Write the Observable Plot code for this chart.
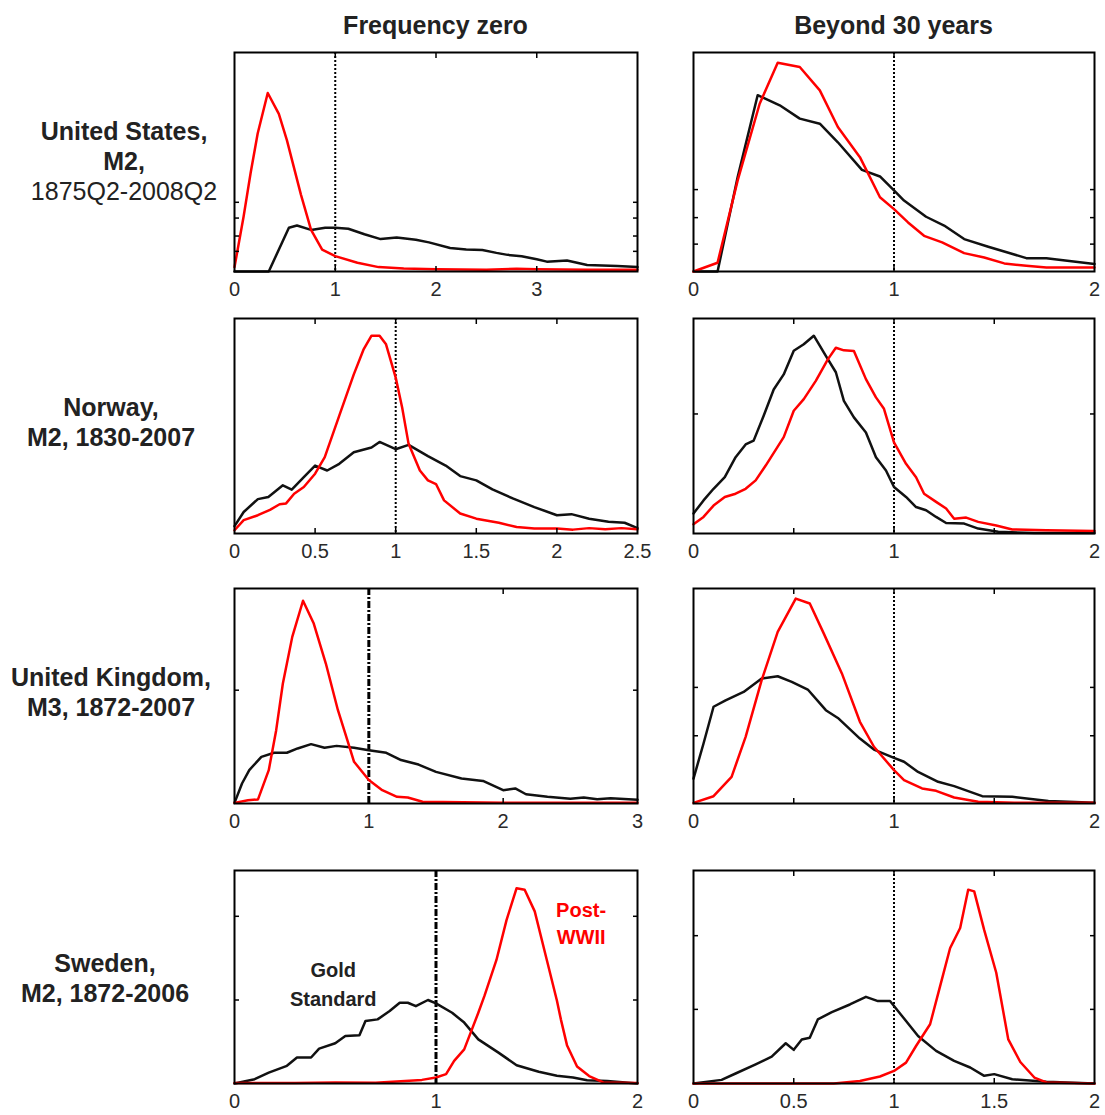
<!DOCTYPE html>
<html>
<head>
<meta charset="utf-8">
<script src="https://cdn.jsdelivr.net/npm/d3@7"></script>
<script src="https://cdn.jsdelivr.net/npm/@observablehq/plot@0.6"></script>
<style>
  body { margin: 0; background: #fff; }
  #chart { position: relative; width: 1105px; height: 1115px; font-family: "Liberation Sans", Arial, sans-serif; background: #fff; overflow: hidden; }
  #chart svg { position: absolute; overflow: visible; }
  .colTitle { position: absolute; font-size: 25px; font-weight: bold; color: #222; white-space: nowrap; transform: translateX(-50%); line-height: 28px; }
  .rowLabel { position: absolute; font-size: 25px; font-weight: bold; color: #222; white-space: nowrap; text-align: center; transform: translateX(-50%); line-height: 30px; }
  .rowLabel .reg { font-weight: normal; }
</style>
</head>
<body>
<div id="chart"></div>
<script>
// ---------- data (relative density, fraction of panel height) ----------
const columnTitles = ["Frequency zero", "Beyond 30 years"];
const rowLabels = [
  ["United States,", "M2,", "1875Q2-2008Q2"],
  ["Norway,", "M2, 1830-2007"],
  ["United Kingdom,", "M3, 1872-2007"],
  ["Sweden,", "M2, 1872-2006"]
];

// United States
const usZeroGold = [[0,0],[0.34,0],[0.54,0.2],[0.62,0.21],[0.76,0.19],[0.9,0.2],[1.0,0.2],[1.13,0.195],[1.29,0.17],[1.45,0.148],[1.61,0.155],[1.8,0.145],[1.93,0.133],[2.14,0.107],[2.3,0.1],[2.46,0.098],[2.6,0.085],[2.71,0.076],[2.85,0.07],[3.0,0.056],[3.1,0.045],[3.3,0.05],[3.5,0.03],[3.8,0.025],[4.0,0.02]];
const usZeroPost = [[0,0.02],[0.09,0.25],[0.16,0.45],[0.23,0.63],[0.33,0.815],[0.44,0.72],[0.52,0.6],[0.66,0.35],[0.76,0.19],[0.87,0.1],[1.0,0.07],[1.22,0.04],[1.43,0.02],[1.68,0.014],[2.0,0.01],[2.5,0.008],[2.8,0.012],[3.0,0.01],[3.5,0.008],[4.0,0.008]];
const us30Gold = [[0,0],[0.12,0],[0.22,0.43],[0.32,0.805],[0.43,0.759],[0.53,0.698],[0.63,0.675],[0.72,0.59],[0.84,0.464],[0.93,0.434],[1.0,0.37],[1.05,0.324],[1.16,0.25],[1.25,0.21],[1.35,0.148],[1.47,0.113],[1.66,0.061],[1.76,0.061],[2.0,0.034]];
const us30Post = [[0,0],[0.12,0.04],[0.22,0.415],[0.33,0.766],[0.42,0.953],[0.53,0.934],[0.63,0.827],[0.72,0.66],[0.83,0.522],[0.93,0.339],[1.0,0.285],[1.07,0.224],[1.15,0.163],[1.24,0.133],[1.35,0.084],[1.45,0.064],[1.55,0.037],[1.66,0.026],[1.76,0.018],[2.0,0.018]];

// Norway
const noZeroGold = [[0,0.034],[0.057,0.1],[0.145,0.16],[0.21,0.17],[0.3,0.224],[0.355,0.204],[0.43,0.262],[0.5,0.316],[0.575,0.293],[0.65,0.324],[0.74,0.378],[0.85,0.4],[0.9,0.426],[1.0,0.392],[1.08,0.412],[1.2,0.36],[1.31,0.316],[1.4,0.267],[1.5,0.247],[1.6,0.205],[1.73,0.162],[1.86,0.123],[2.0,0.085],[2.09,0.09],[2.2,0.069],[2.32,0.055],[2.42,0.05],[2.5,0.025]];
const noZeroPost = [[0,0.015],[0.057,0.062],[0.145,0.085],[0.22,0.11],[0.28,0.136],[0.32,0.14],[0.37,0.185],[0.43,0.216],[0.5,0.278],[0.56,0.355],[0.65,0.548],[0.74,0.74],[0.8,0.855],[0.85,0.92],[0.9,0.92],[0.94,0.88],[1.0,0.725],[1.04,0.586],[1.08,0.417],[1.15,0.293],[1.2,0.247],[1.25,0.23],[1.3,0.154],[1.4,0.093],[1.5,0.069],[1.64,0.05],[1.75,0.03],[1.86,0.023],[2.0,0.023],[2.1,0.018],[2.2,0.025],[2.3,0.02],[2.4,0.025],[2.5,0.02]];
const no30Gold = [[0,0.093],[0.05,0.154],[0.1,0.208],[0.156,0.262],[0.21,0.355],[0.26,0.414],[0.3,0.432],[0.35,0.548],[0.4,0.67],[0.45,0.74],[0.5,0.85],[0.55,0.88],[0.6,0.92],[0.66,0.826],[0.71,0.75],[0.75,0.617],[0.8,0.54],[0.86,0.47],[0.91,0.355],[0.96,0.293],[1.0,0.216],[1.06,0.17],[1.11,0.123],[1.16,0.108],[1.21,0.077],[1.26,0.049],[1.35,0.046],[1.42,0.023],[1.52,0.008],[1.7,0.002],[2.0,0.002]];
const no30Post = [[0,0.043],[0.05,0.077],[0.1,0.13],[0.156,0.17],[0.21,0.185],[0.26,0.208],[0.31,0.247],[0.36,0.316],[0.45,0.448],[0.5,0.571],[0.55,0.625],[0.61,0.71],[0.67,0.81],[0.71,0.864],[0.75,0.852],[0.8,0.849],[0.86,0.718],[0.91,0.633],[0.95,0.58],[1.0,0.424],[1.06,0.324],[1.11,0.262],[1.15,0.185],[1.21,0.147],[1.26,0.116],[1.3,0.069],[1.36,0.074],[1.42,0.054],[1.51,0.037],[1.59,0.019],[1.76,0.015],[2.0,0.012]];

// United Kingdom
const ukZeroGold = [[0,0.003],[0.056,0.093],[0.11,0.155],[0.2,0.217],[0.295,0.236],[0.39,0.236],[0.47,0.256],[0.57,0.276],[0.67,0.259],[0.76,0.268],[0.89,0.259],[1.0,0.248],[1.13,0.236],[1.24,0.202],[1.37,0.181],[1.5,0.147],[1.69,0.116],[1.85,0.105],[2.0,0.062],[2.09,0.07],[2.17,0.043],[2.33,0.031],[2.5,0.022],[2.6,0.028],[2.7,0.02],[2.8,0.024],[3.0,0.018]];
const ukZeroPost = [[0,0.003],[0.1,0.015],[0.175,0.019],[0.255,0.155],[0.31,0.34],[0.36,0.558],[0.43,0.775],[0.51,0.943],[0.59,0.837],[0.68,0.651],[0.77,0.434],[0.84,0.295],[0.89,0.194],[1.0,0.109],[1.1,0.062],[1.21,0.031],[1.29,0.028],[1.4,0.008],[2.0,0.004],[3.0,0.004]];
const uk30Gold = [[0,0.116],[0.05,0.279],[0.1,0.45],[0.16,0.48],[0.25,0.519],[0.34,0.581],[0.42,0.592],[0.49,0.566],[0.57,0.53],[0.66,0.434],[0.72,0.398],[0.83,0.302],[0.9,0.251],[1.0,0.212],[1.05,0.194],[1.12,0.147],[1.22,0.101],[1.3,0.081],[1.44,0.034],[1.59,0.031],[1.77,0.012],[2.0,0.003]];
const uk30Post = [[0,0.003],[0.1,0.034],[0.19,0.124],[0.26,0.31],[0.34,0.574],[0.42,0.798],[0.51,0.953],[0.58,0.93],[0.65,0.79],[0.74,0.605],[0.83,0.38],[0.9,0.264],[1.0,0.155],[1.05,0.109],[1.14,0.07],[1.21,0.059],[1.3,0.028],[1.42,0.008],[1.6,0.003],[2.0,0.003]];

// Sweden
const seZeroGold = [[0,0],[0.1,0.02],[0.17,0.051],[0.26,0.083],[0.31,0.122],[0.38,0.122],[0.42,0.164],[0.5,0.189],[0.55,0.223],[0.62,0.226],[0.65,0.293],[0.71,0.301],[0.77,0.34],[0.82,0.379],[0.86,0.379],[0.9,0.363],[0.96,0.392],[1.0,0.376],[1.08,0.332],[1.14,0.286],[1.21,0.207],[1.31,0.145],[1.4,0.086],[1.51,0.055],[1.6,0.036],[1.68,0.028],[1.75,0.015],[1.85,0.012],[2.0,0.0]];
const seZeroPost = [[0,0.002],[0.3,0.002],[0.5,0.005],[0.7,0.003],[0.93,0.017],[1.0,0.028],[1.05,0.044],[1.09,0.106],[1.14,0.16],[1.21,0.332],[1.24,0.41],[1.3,0.58],[1.35,0.767],[1.4,0.917],[1.44,0.91],[1.49,0.808],[1.55,0.58],[1.6,0.39],[1.62,0.3],[1.65,0.18],[1.7,0.08],[1.76,0.035],[1.83,0.005],[2.0,0.002]];
const se30Gold = [[0,0],[0.14,0.017],[0.21,0.047],[0.31,0.09],[0.39,0.126],[0.46,0.189],[0.5,0.158],[0.54,0.207],[0.58,0.215],[0.62,0.301],[0.69,0.335],[0.78,0.371],[0.86,0.407],[0.92,0.387],[0.98,0.387],[1.04,0.317],[1.12,0.223],[1.21,0.153],[1.3,0.106],[1.38,0.075],[1.45,0.036],[1.5,0.044],[1.59,0.02],[1.76,0.008],[2.0,0.0]];
const se30Post = [[0,0],[0.7,0],[0.83,0.012],[0.93,0.033],[1.0,0.059],[1.06,0.098],[1.11,0.176],[1.18,0.278],[1.23,0.457],[1.28,0.636],[1.33,0.73],[1.37,0.91],[1.4,0.902],[1.45,0.72],[1.51,0.52],[1.57,0.207],[1.63,0.101],[1.7,0.028],[1.76,0.005],[2.0,0]];

// axes
const xDomains = [[0,4],[0,2],[0,2.5],[0,2],[0,3],[0,2],[0,2],[0,2]];
const xTickLabels = [[0,1,2,3],[0,1,2],[0,0.5,1,1.5,2,2.5],[0,1,2],[0,1,2,3],[0,1,2],[0,1,2],[0,0.5,1,1.5,2]];
const xTickMarks = [[1,2,3],[1],[0.5,1,1.5,2],[0.5,1,1.5],[1,2],[0.5,1,1.5],[1],[0.5,1,1.5]];
const yTickMarks = [[0.092,0.162,0.244,0.316],[0.125,0.246,0.374],[],[0.556],[0.527],[0.315,0.54],[0.392,0.785],[0.348,0.694]];
const refLineStyle = ["dot","dot","dot","dot","dashdot","dot","dashdot","dot"];
const goldSeries = [usZeroGold, us30Gold, noZeroGold, no30Gold, ukZeroGold, uk30Gold, seZeroGold, se30Gold];
const postSeries = [usZeroPost, us30Post, noZeroPost, no30Post, ukZeroPost, uk30Post, seZeroPost, se30Post];
const annotations = [
  {panel: 6, x: 0.49, y: 0.53, text: "Gold", color: "#222"},
  {panel: 6, x: 0.49, y: 0.395, text: "Standard", color: "#222"},
  {panel: 6, x: 1.72, y: 0.81, text: "Post-", color: "#ff0000"},
  {panel: 6, x: 1.72, y: 0.685, text: "WWII", color: "#ff0000"}
];

// ---------- layout ----------
const colFrames = [{left: 234, width: 403}, {left: 693, width: 401}];
const rowFrames = [{top: 52, height: 219}, {top: 318, height: 215}, {top: 588, height: 215}, {top: 870, height: 213}];
const rowLabelPos = [{cx: 124, cy: 161}, {cx: 111, cy: 422}, {cx: 111, cy: 692}, {cx: 105, cy: 978}];

const chart = document.getElementById("chart");

columnTitles.forEach((t, c) => {
  const d = document.createElement("div");
  d.className = "colTitle";
  d.textContent = t;
  d.style.left = (colFrames[c].left + colFrames[c].width / 2) + "px";
  d.style.top = "11px";
  chart.appendChild(d);
});

rowLabels.forEach((lines, r) => {
  const d = document.createElement("div");
  d.className = "rowLabel";
  lines.forEach((l) => {
    const s = document.createElement("div");
    s.textContent = l;
    if (/^\d{4}Q/.test(l)) s.className = "reg";
    d.appendChild(s);
  });
  d.style.left = rowLabelPos[r].cx + "px";
  d.style.top = (rowLabelPos[r].cy - lines.length * 15) + "px";
  chart.appendChild(d);
});

const mL = 20, mR = 24, mT = 6, mB = 36;
const noText = () => "";

for (let i = 0; i < 8; i++) {
  const r = Math.floor(i / 2), c = i % 2;
  const fw = colFrames[c].width, fh = rowFrames[r].height;
  const dash = refLineStyle[i] === "dot"
    ? {strokeWidth: 2, strokeDasharray: "2,2"}
    : {strokeWidth: 3, strokeDasharray: "7,2,2,2"};
  const ann = annotations.filter((a) => a.panel === i);
  const marks = [
    Plot.ruleX([1], {stroke: "#000", ...dash}),
    Plot.line(goldSeries[i], {x: (d) => d[0], y: (d) => d[1], stroke: "#111", strokeWidth: 2.5}),
    Plot.line(postSeries[i], {x: (d) => d[0], y: (d) => d[1], stroke: "#ff0000", strokeWidth: 2.5}),
    Plot.axisX(xTickLabels[i], {anchor: "bottom", tickSize: 0, tickPadding: 10, fontSize: 20, fill: "#2a2a2a", label: null, tickFormat: (d) => String(d)}),
    Plot.axisX(xTickMarks[i], {anchor: "bottom", tickSize: -5, strokeWidth: 1.5, tickFormat: noText, label: null}),
    Plot.axisX(xTickMarks[i], {anchor: "top", tickSize: -5, strokeWidth: 1.5, tickFormat: noText, label: null}),
    Plot.frame({stroke: "#000", strokeWidth: 2})
  ];
  if (yTickMarks[i].length) {
    marks.push(Plot.axisY(yTickMarks[i], {anchor: "left", tickSize: -5, strokeWidth: 1.5, tickFormat: noText, label: null}));
    marks.push(Plot.axisY(yTickMarks[i], {anchor: "right", tickSize: -5, strokeWidth: 1.5, tickFormat: noText, label: null}));
  }
  if (ann.length) {
    marks.push(Plot.text(ann, {x: "x", y: "y", text: "text", fill: "color", fontSize: 20, fontWeight: "bold", textAnchor: "middle"}));
  }
  const svg = Plot.plot({
    width: fw + mL + mR,
    height: fh + mT + mB,
    marginLeft: mL, marginRight: mR, marginTop: mT, marginBottom: mB,
    style: {fontFamily: "'Liberation Sans', Arial, sans-serif", background: "transparent", overflow: "visible"},
    x: {domain: xDomains[i], axis: null},
    y: {domain: [0, 1], axis: null},
    marks
  });
  svg.style.left = (colFrames[c].left - mL) + "px";
  svg.style.top = (rowFrames[r].top - mT) + "px";
  chart.appendChild(svg);
}
</script>
</body>
</html>
